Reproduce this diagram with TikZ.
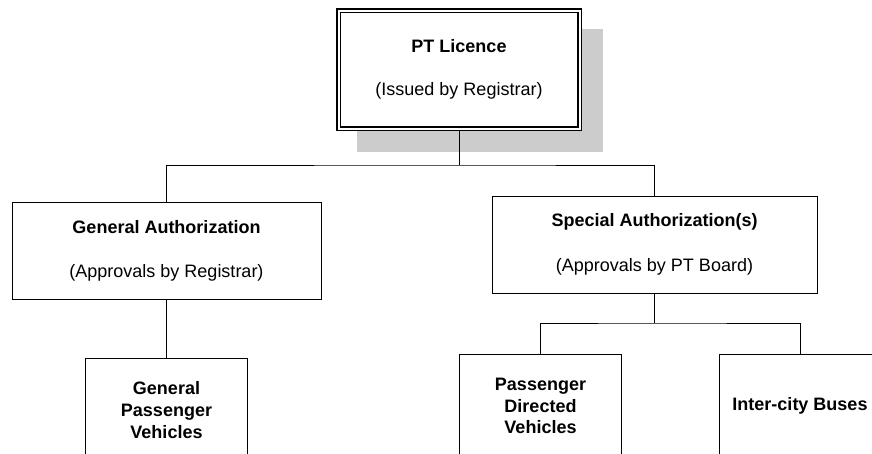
\documentclass[tikz,border=0pt]{standalone}
\usepackage{fontspec}
\setmainfont{Liberation Sans}
\usetikzlibrary{calc,backgrounds}
\definecolor{shadowgrey}{gray}{0.8}
\tikzstyle{licbox}=[rectangle, draw, double, line width=1.5pt, double distance=2pt, fill=white, outer sep=0pt, inner sep=0pt, minimum width=241pt, minimum height=118pt, align=center, font=\fontsize{18}{21.6}\selectfont]
\tikzstyle{authbox}=[rectangle, draw, line width=1pt, fill=white, outer sep=0pt, inner sep=0pt, minimum height=97pt, align=center, font=\fontsize{18}{21.6}\selectfont]
\tikzstyle{vehbox}=[authbox, minimum width=162pt, minimum height=104pt]
\tikzstyle{branch}=[line width=1pt]

\begin{document}
\begin{tikzpicture}[x=1pt,y=-1pt]
  \clip (0,0) rectangle (872,453);

  \node[licbox] (licence) at (459,69.5) {\textbf{PT Licence}\\[21.4pt](Issued by Registrar)};

  \node[authbox, minimum width=309pt] (general) at (166.5,250.5) {\textbf{General Authorization}\\[22.4pt](Approvals by Registrar)};
  \node[authbox, minimum width=325pt] (special) at (654.5,244.5) {\textbf{Special Authorization(s)}\\[24pt](Approvals by PT Board)};

  \node[vehbox] (genveh) at (166.5,410) {\textbf{General}\\\textbf{Passenger}\\\textbf{Vehicles}};
  \node[vehbox] (pasveh) at (540.5,406) {\textbf{Passenger}\\\textbf{Directed}\\\textbf{Vehicles}};
  \node[vehbox] (intercity) at (800,406) {\textbf{Inter-city Buses}};

  \coordinate (split) at (459,165);
  \coordinate (fork) at (654.5,323);

  \begin{scope}[on background layer]
    \fill[shadowgrey] ($(licence.north west)+(18.5,18.5)$) rectangle ($(licence.south east)+(23.5,23.5)$);
    \draw[branch] (licence) -- (split);
    \draw[branch] (general.north) |- (split) -| (special.north);
    \draw[branch] (general) -- (genveh);
    \draw[branch] (special) -- (fork);
    \draw[branch] (pasveh.north) |- (fork) -| (intercity.north);
  \end{scope}
\end{tikzpicture}
\end{document}
